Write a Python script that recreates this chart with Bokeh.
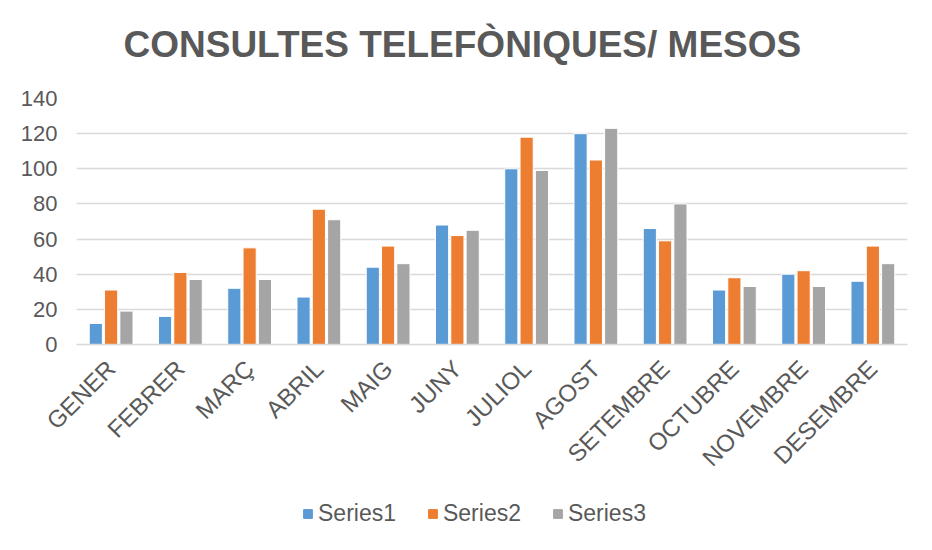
import math
from bokeh.plotting import figure
from bokeh.layouts import column
from bokeh.models import (ColumnDataSource, FactorRange, Legend, LegendItem, FixedTicker,
                          Range1d, Title)
from bokeh.transform import dodge
from bokeh.embed import file_html
from bokeh.resources import INLINE

months = ["GENER", "FEBRER", "MARÇ", "ABRIL", "MAIG", "JUNY", "JULIOL", "AGOST",
          "SETEMBRE", "OCTUBRE", "NOVEMBRE", "DESEMBRE"]
series1 = [12, 16, 32, 27, 44, 68, 100, 120, 66, 31, 40, 36]
series2 = [31, 41, 55, 77, 56, 62, 118, 105, 59, 38, 42, 56]
series3 = [19, 37, 37, 71, 46, 65, 99, 123, 80, 33, 33, 46]
series_names = ["Series1", "Series2", "Series3"]
colors = ["#5B9BD5", "#ED7D31", "#A5A5A5"]
y_ticks = [0, 20, 40, 60, 80, 100, 120, 140]
title_text = "CONSULTES TELEFÒNIQUES/ MESOS"

src = ColumnDataSource(dict(month=months, s1=series1, s2=series2, s3=series3))
keys = ["s1", "s2", "s3"]

TXT = "#595959"
FONT = "Liberation Sans"

p = figure(x_range=FactorRange(*months), y_range=Range1d(0, 140),
           frame_width=831, frame_height=246, output_backend="svg", toolbar_location=None,
           title=None)
p.min_border_left = 76
p.min_border_right = 25
p.min_border_top = 98
p.min_border_bottom = 140

spacer = Title(text=" ", text_font_size="2px", standoff=25)
main_title = Title(text=title_text, align="left", offset=47, text_font=FONT,
                   text_font_size="37px", text_font_style="bold", text_color=TXT,
                   standoff=10)
p.add_layout(spacer, "above")
p.add_layout(main_title, "above")

offsets = [-0.221, 0.0, 0.221]
for key, off, col in zip(keys, offsets, colors):
    p.vbar(x=dodge("month", off, range=p.x_range), top=key, width=0.19, source=src,
           fill_color=col, line_color="white", line_width=1)

p.outline_line_color = None
p.background_fill_color = "white"
p.border_fill_color = "white"

p.xgrid.grid_line_color = None
p.ygrid.grid_line_color = "#D9D9D9"
p.ygrid.grid_line_width = 1.3

p.yaxis.ticker = FixedTicker(ticks=y_ticks)
p.yaxis.axis_line_color = None
p.yaxis.major_tick_line_color = None
p.yaxis.minor_tick_line_color = None
p.yaxis.major_label_text_font = FONT
p.yaxis.major_label_text_font_size = "22px"
p.yaxis.major_label_text_color = TXT
p.yaxis.major_label_standoff = 13

p.xaxis.axis_line_color = "#D9D9D9"
p.xaxis.axis_line_width = 1.3
p.xaxis.major_tick_line_color = None
p.xaxis.minor_tick_line_color = None
p.xaxis.major_label_orientation = math.pi / 4
p.xaxis.major_label_text_font = FONT
p.xaxis.major_label_text_font_size = "24px"
p.xaxis.major_label_text_color = TXT
p.xaxis.major_label_standoff = 14

# legend strip below the chart (its swatch renderers lie outside its visible range)
p2 = figure(x_range=FactorRange(*months), y_range=Range1d(1000, 1001),
            width=932, height=64, output_backend="svg", toolbar_location=None,
            x_axis_location=None, y_axis_location=None, title=None,
            min_border=0)
p2.outline_line_color = None
p2.xgrid.grid_line_color = None
p2.ygrid.grid_line_color = None
p2.border_fill_color = "white"
leg_renderers = []
for key, col in zip(keys, colors):
    r = p2.vbar(x="month", top=key, width=0.19, source=src,
                fill_color=col, line_color=col)
    leg_renderers.append(r)

legend = Legend(items=[LegendItem(label=n, renderers=[r]) for n, r in zip(series_names, leg_renderers)],
                orientation="horizontal", location=(226, 21))
legend.label_text_font = FONT
legend.label_text_font_size = "23px"
legend.label_text_color = TXT
legend.glyph_width = 11
legend.glyph_height = 11
legend.label_standoff = 5
legend.spacing = 31
legend.border_line_color = None
legend.background_fill_alpha = 0
p2.add_layout(legend, "center")

layout = column(p, p2, spacing=0)
open("out.html", "w").write(file_html(layout, INLINE))
